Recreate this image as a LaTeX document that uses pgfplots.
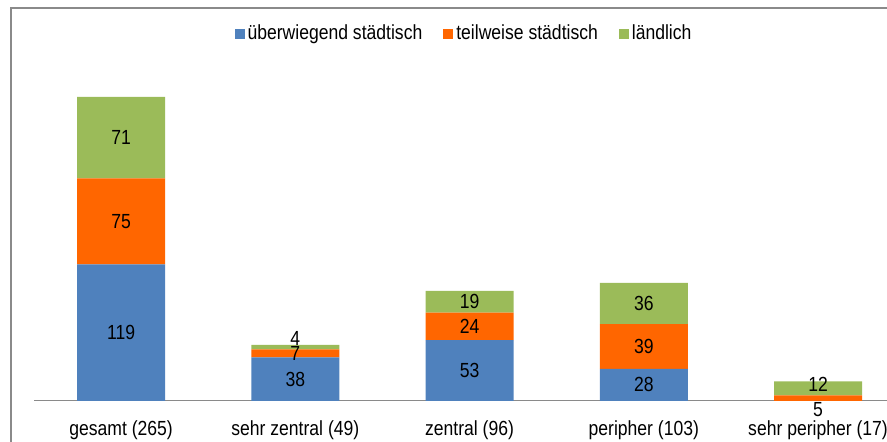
\documentclass[border=0pt]{standalone}
\usepackage{fontspec}
\setmainfont{Liberation Sans}[FakeStretch=0.86]
\usepackage{pgfplots}
\pgfplotsset{compat=1.18}
\usepackage{pgfplotstable}
\definecolor{cblue}{HTML}{4F81BD}
\definecolor{corange}{HTML}{FF6600}
\definecolor{cgreen}{HTML}{9BBB59}
\definecolor{cframe}{HTML}{8A8A8A}

\pgfplotstableread{
x v
0 119
1 38
2 53
3 28
4 0
}\tblue
\pgfplotstableread{
x v
0 75
1 7
2 24
3 39
4 5
}\torange
\pgfplotstableread{
x v
0 71
1 4
2 19
3 36
4 12
}\tgreen

% seglabels={shift at x=1}{shift at x=4}
\pgfplotsset{seglabels/.style 2 args={
  visualization depends on={rawx \as \xval},
  every node near coord/.append style={anchor=center, text=black, inner sep=0pt,
    yshift={((#1)*(\xval==1) + (#2)*(\xval==4))*1bp}},
}}

\begin{document}
\fontsize{20.5}{24}\selectfont
\begin{tikzpicture}[x=1bp,y=1bp]
\useasboundingbox (0,0) rectangle (887,442);
\draw[cframe, line width=1.5bp] (11,-5) -- (11,434) -- (900,434);
\begin{axis}[
  at={(34bp,41bp)}, anchor=south west,
  scale only axis,
  width=853bp,
  y=1.14717bp,
  xmin=-0.5, xmax=4.396,
  ymin=0, ymax=300,
  ybar stacked, bar width=88bp,
  axis x line*=bottom, axis y line=none,
  x axis line style={draw=cframe, line width=1bp, -},
  xtick={0,1,2,3,4},
  xticklabels={gesamt (265), sehr zentral (49), zentral (96), peripher (103), sehr peripher (17)},
  major tick length=0pt,
  xticklabel style={anchor=north, inner sep=0pt, yshift=-20bp},
  /pgf/number format/assume math mode=true,
  point meta=explicit,
  nodes near coords={\pgfmathfloatifflags{\pgfplotspointmeta}{0}{}{\pgfmathprintnumber{\pgfplotspointmeta}}},
  nodes near coords align={center},
  legend columns=3,
  legend style={draw=none, fill=none, at={(0.5047,1.067)}, anchor=center,
    nodes={inner sep=3bp},
    /tikz/every even column/.append style={column sep=18bp}},
  legend image code/.code={\fill[#1] (-2bp,-5bp) rectangle (8bp,5bp);},
]
\addplot[fill=cblue, draw=none, seglabels={0}{0}] table[x=x,y=v,meta=v]{\tblue};
\addplot[fill=corange, draw=none, seglabels={0}{-11}] table[x=x,y=v,meta=v]{\torange};
\addplot[fill=cgreen, draw=none, seglabels={9}{4}] table[x=x,y=v,meta=v]{\tgreen};
\legend{überwiegend städtisch, teilweise städtisch, ländlich}
\end{axis}
\end{tikzpicture}
\end{document}
